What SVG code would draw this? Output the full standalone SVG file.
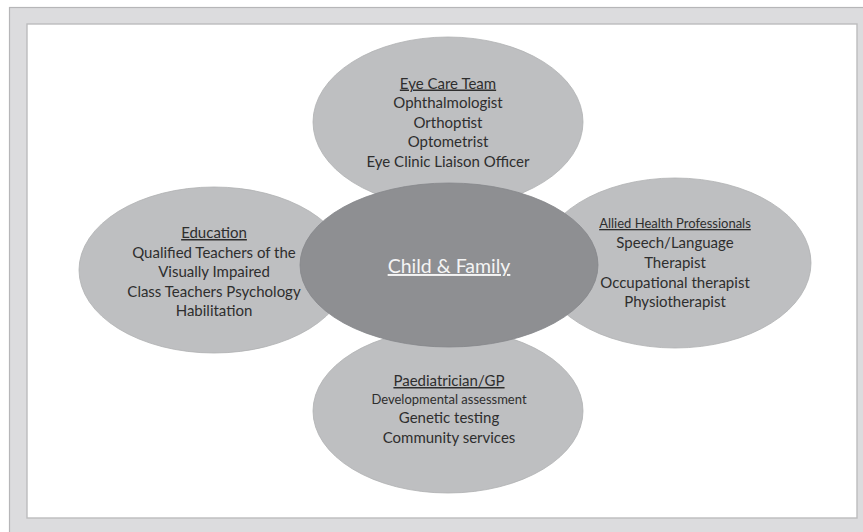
<svg xmlns="http://www.w3.org/2000/svg" width="863" height="532" viewBox="0 0 863 532">
<style>
.outer{fill:#bebfc1;stroke:#b0b1b3;stroke-width:0.8}
.core{fill:#8e8f92;stroke:#85868a;stroke-width:0.8}
text{font-family:Lato,"Open Sans","Liberation Sans",sans-serif;fill:#2e2e2e;text-anchor:middle;font-size:15px}
.h{text-decoration:underline}
.sm{font-size:13px}
.ctr{fill:#f4f4f4;font-size:19.5px;text-decoration:underline}
</style>
<rect x="9.5" y="7.5" width="870" height="540" fill="#dcdcde" stroke="#b6b6b8" stroke-width="1.2"/>
<rect x="27" y="24" width="830" height="494" fill="#ffffff" stroke="#bcbcbe" stroke-width="1.4"/>
<g id="eye-care-team">
<ellipse class="outer" cx="448" cy="122" rx="135" ry="85"/>
<text x="448" y="88.5" class="h">Eye Care Team</text>
<text x="448" y="108">Ophthalmologist</text>
<text x="448" y="127.5">Orthoptist</text>
<text x="448" y="147">Optometrist</text>
<text x="448" y="166.5">Eye Clinic Liaison Officer</text>
</g>
<g id="education">
<ellipse class="outer" cx="214" cy="270" rx="135" ry="83"/>
<text x="214" y="238" class="h">Education</text>
<text x="214" y="257.5">Qualified Teachers of the</text>
<text x="214" y="277">Visually Impaired</text>
<text x="214" y="296.5">Class Teachers Psychology</text>
<text x="214" y="316">Habilitation</text>
</g>
<g id="allied-health">
<ellipse class="outer" cx="675" cy="263" rx="136" ry="85"/>
<text x="675" y="228" class="h sm">Allied Health Professionals</text>
<text x="675" y="248">Speech/Language</text>
<text x="675" y="267.5">Therapist</text>
<text x="675" y="287.5">Occupational therapist</text>
<text x="675" y="307">Physiotherapist</text>
</g>
<g id="paediatrician">
<ellipse class="outer" cx="448" cy="411" rx="135" ry="82"/>
<text x="449" y="386" class="h">Paediatrician/GP</text>
<text x="449" y="404" class="sm">Developmental assessment</text>
<text x="449" y="423">Genetic testing</text>
<text x="449" y="442.5">Community services</text>
</g>
<g id="child-family">
<ellipse class="core" cx="449" cy="265" rx="149" ry="82"/>
<text x="449" y="273" class="ctr">Child &amp; Family</text>
</g>
<g id="connectors"></g>
</svg>
